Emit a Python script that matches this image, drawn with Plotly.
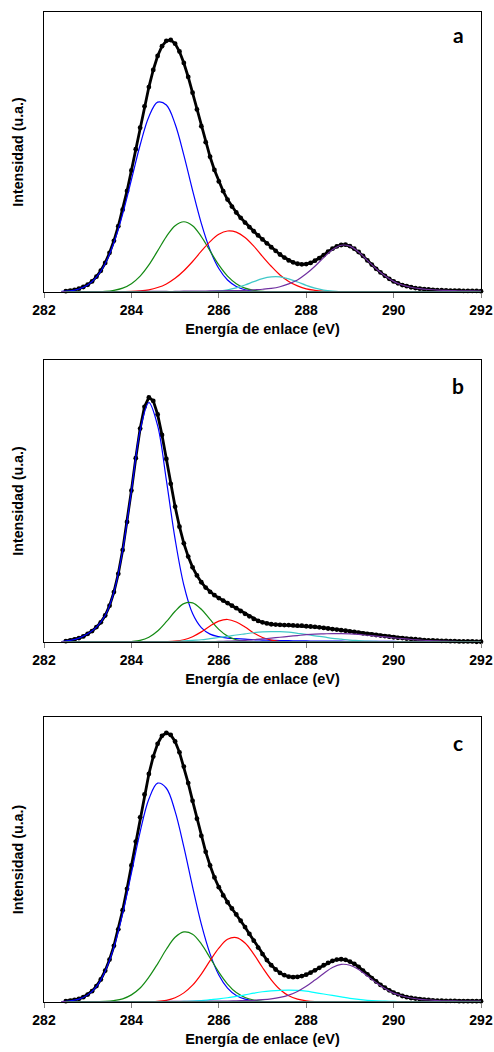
import plotly.graph_objects as go

# Energy grids (eV): data points every 0.1 eV, fitted components every 0.2 eV
X_DATA = [round(282.5 + 0.1 * i, 1) for i in range(96)]
X_FIT = [round(282.4 + 0.2 * i, 1) for i in range(49)]
X_TICKS = [282, 284, 286, 288, 290, 292]

# ---------------- panel a ----------------
A_DATA = [0.3,0.5,0.8,1.2,1.8,2.6,3.8,5.5,7.6,10.4,
          14,18.3,23.5,29.4,36.1,43.4,51,58.7,66.3,73.2,
          79.3,84.3,87.8,89.7,90,88.7,85.9,81.8,76.8,71.2,
          65.2,59.2,53.5,48.3,43.6,39.5,36,33,30.5,28.4,
          26.5,24.8,23.2,21.7,20.2,18.8,17.4,16,14.7,13.4,
          12.3,11.3,10.6,10.1,9.9,10,10.4,11.2,12.1,13.2,
          14.4,15.5,16.3,16.8,16.9,16.4,15.5,14.3,12.9,11.3,
          9.8,8.3,7.0,5.8,4.7,3.8,3.1,2.5,2.1,1.7,
          1.4,1.2,1.0,0.9,0.8,0.7,0.7,0.6,0.5,0.5,
          0.5,0.4,0.4,0.4,0.4,0.3]
A_BLUE = [0.2,0.4,1.1,2.5,5.3,10.1,17.6,27.8,40.1,52.5,
          62.6,67.8,66.8,60,48.9,36.3,24.5,15,8.4,4.3,
          2,0.8,0.3,0.1,0,0,0,0,0,0,
          0,0,0,0,0,0,0,0,0,0,
          0,0,0,0,0,0,0,0,0]
A_GREEN = [0,0,0,0,0.1,0.2,0.6,1.4,3,5.7,
           9.7,14.7,19.8,23.7,25.1,23.7,19.8,14.7,9.7,5.7,
           3,1.4,0.6,0.2,0.1,0,0,0,0,0,
           0,0,0,0,0,0,0,0,0,0,
           0,0,0,0,0,0,0,0,0]
A_RED = [0,0,0,0,0,0,0,0.1,0.2,0.4,
         0.8,1.6,2.9,4.9,7.6,10.9,14.6,18,20.6,21.8,
         21.4,19.5,16.4,12.7,9.2,6.1,3.8,2.2,1.1,0.6,
         0.3,0.1,0,0,0,0,0,0,0,0,
         0,0,0,0,0,0,0,0,0]
A_CYAN = [0,0,0,0,0,0,0,0,0,0,
          0,0,0,0,0,0,0,0.1,0.4,0.8,
          1.5,2.5,3.7,4.8,5.4,5.4,4.7,3.6,2.4,1.4,
          0.7,0.3,0.1,0,0,0,0,0,0,0,
          0,0,0,0,0,0,0,0,0]
A_PURPLE = [0.1,0.1,0.1,0.1,0.1,0.1,0.1,0.1,0.1,0.2,
            0.2,0.2,0.2,0.2,0.3,0.3,0.3,0.4,0.4,0.5,
            0.5,0.6,0.8,1,1.3,1.9,2.9,4.3,6.5,9.2,
            12.3,15.1,16.7,16.4,14.3,11.3,8.3,5.8,3.8,2.5,
            1.7,1.2,0.9,0.7,0.6,0.5,0.4,0.4,0.3]

# ---------------- panel b ----------------
B_DATA = [0.3,0.6,0.9,1.4,2,2.9,3.9,5.3,7,9.4,
          12.9,17.7,24.2,32.6,42.6,53.7,65.2,75.7,83.4,86.7,
          85.5,80.7,73.4,64.9,56.1,48,40.9,35,30.3,26.5,
          23.6,21.2,19.3,17.8,16.6,15.6,14.7,13.8,12.9,12,
          11,10,9.1,8.2,7.5,7,6.6,6.3,6.2,6.1,
          6,6,5.9,5.8,5.8,5.6,5.5,5.4,5.2,5,
          4.8,4.6,4.4,4.2,4,3.8,3.6,3.3,3.1,2.9,
          2.7,2.5,2.3,2.1,1.9,1.7,1.5,1.4,1.2,1.1,
          1,0.8,0.7,0.6,0.6,0.5,0.4,0.4,0.3,0.3,
          0.2,0.2,0.2,0.2,0.1,0.1]
B_BLUE = [0.2,0.6,1.4,2.9,5.3,9.4,17.7,32.5,53.5,75,
          84.9,76.7,57.4,36.5,20.2,10.1,5.1,2.8,1.9,1.4,
          1.2,1,0.8,0.7,0.6,0.5,0.5,0.4,0.4,0.3,
          0.3,0.3,0.3,0.2,0.2,0.2,0.2,0.2,0.2,0.1,
          0.1,0.1,0.1,0.1,0.1,0.1,0.1,0.1,0.1]
B_GREEN = [0,0,0,0,0,0,0,0,0.2,0.6,
           1.7,3.9,7.2,10.9,13.6,13.9,11.6,8,4.5,2.1,
           0.8,0.2,0.1,0,0,0,0,0,0,0,
           0,0,0,0,0,0,0,0,0,0,
           0,0,0,0,0,0,0,0,0]
B_RED = [0,0,0,0,0,0,0,0,0,0,
         0,0,0.1,0.3,0.8,1.9,3.6,5.7,7.4,8,
         7.1,5.3,3.2,1.6,0.7,0.2,0.1,0,0,0,
         0,0,0,0,0,0,0,0,0,0,
         0,0,0,0,0,0,0,0,0]
B_CYAN = [0,0,0,0,0,0,0,0,0,0,
          0,0.1,0.1,0.2,0.4,0.6,0.8,1.2,1.6,2,
          2.5,2.9,3.3,3.6,3.7,3.7,3.5,3.1,2.7,2.2,
          1.8,1.3,1,0.7,0.5,0.3,0.2,0.1,0.1,0,
          0,0,0,0,0,0,0,0,0]
B_PURPLE = [0,0,0,0,0,0,0,0,0,0,
            0,0,0,0,0,0.1,0.1,0.1,0.2,0.3,
            0.4,0.6,0.8,1.1,1.4,1.7,2,2.3,2.6,2.8,
            2.9,3,3,2.9,2.7,2.4,2.1,1.8,1.5,1.2,
            0.9,0.7,0.5,0.4,0.3,0.2,0.1,0.1,0]

# ---------------- panel c ----------------
C_DATA = [0.3,0.5,0.7,1.1,1.7,2.6,3.8,5.6,7.9,11,
          14.9,19.7,25.5,32.2,39.7,47.9,56.3,64.8,72.8,80,
          86.1,90.6,93.4,94.4,93.7,91.4,87.6,82.6,76.8,70.6,
          64.3,58.3,52.7,47.9,43.7,40.3,37.4,35,32.8,30.7,
          28.5,26.3,23.9,21.5,19.1,16.8,14.7,12.9,11.4,10.2,
          9.4,8.9,8.7,8.8,9.1,9.6,10.3,11.1,12,12.9,
          13.7,14.4,14.9,15,14.8,14.2,13.4,12.3,11,9.7,
          8.4,7.2,6,5,4.1,3.3,2.7,2.1,1.7,1.4,
          1.2,1,0.8,0.7,0.6,0.5,0.5,0.4,0.4,0.4,
          0.3,0.3,0.3,0.3,0.3,0.3]
C_BLUE = [0.1,0.4,1,2.5,5.4,10.8,19.2,31,45.2,59.7,
          71.2,76.8,75,66.9,54.4,40.4,27.3,16.9,9.5,4.9,
          2.3,1,0.4,0.1,0,0,0,0,0,0,
          0,0,0,0,0,0,0,0,0,0,
          0,0,0,0,0,0,0,0,0]
C_GREEN = [0,0,0,0,0.1,0.2,0.5,1.1,2.5,4.9,
           8.7,13.4,18.5,22.7,24.6,23.8,20.4,15.5,10.5,6.3,
           3.3,1.6,0.7,0.2,0.1,0,0,0,0,0,
           0,0,0,0,0,0,0,0,0,0,
           0,0,0,0,0,0,0,0,0]
C_RED = [0,0,0,0,0,0,0,0,0,0,
         0.1,0.2,0.6,1.5,3.2,5.9,9.8,14.5,18.9,22,
         22.6,20.7,16.8,12.1,7.8,4.4,2.2,1,0.4,0.1,
         0,0,0,0,0,0,0,0,0,0,
         0,0,0,0,0,0,0,0,0]
C_CYAN = [0,0,0,0,0,0,0,0,0,0,
          0,0,0.1,0.1,0.2,0.3,0.5,0.8,1.1,1.5,
          2,2.5,3.1,3.6,3.9,4.1,4.2,4.1,3.8,3.3,
          2.8,2.3,1.8,1.3,0.9,0.6,0.4,0.3,0.2,0.1,
          0,0,0,0,0,0,0,0,0]
C_PURPLE = [0.1,0.1,0.1,0.1,0.1,0.1,0.1,0.1,0.1,0.1,
            0.1,0.1,0.2,0.2,0.2,0.2,0.2,0.3,0.3,0.3,
            0.4,0.5,0.6,0.8,1.1,1.6,2.4,3.7,5.5,7.7,
            10,12.1,13.2,12.9,11.4,9.1,6.8,4.7,3.1,2.1,
            1.4,0.9,0.7,0.5,0.4,0.4,0.3,0.3,0.3]

PANELS = [
    ("a", A_DATA, [A_BLUE, A_GREEN, A_RED, A_CYAN, A_PURPLE], "#40c8c8"),
    ("b", B_DATA, [B_BLUE, B_GREEN, B_RED, B_CYAN, B_PURPLE], "#40c8c8"),
    ("c", C_DATA, [C_BLUE, C_GREEN, C_RED, C_CYAN, C_PURPLE], "#00ffff"),
]
Y_DOMAINS = [[0.7224, 0.9886], [0.3897, 0.6578], [0.04753, 0.31844]]
LABEL_Y_PX = [34, 385, 742]

FONT = "Liberation Sans, Arial, sans-serif"
fig = go.Figure()
for i, (lab, data, comps, cyan) in enumerate(PANELS):
    ax = "" if i == 0 else str(i + 1)
    fig.add_trace(go.Scatter(x=X_DATA, y=data, mode="lines+markers",
                             line=dict(color="black", width=2.8),
                             marker=dict(color="black", size=4.8),
                             xaxis="x" + ax, yaxis="y" + ax, cliponaxis=False))
    cols = ["#0000ff", "#138a13", "#ff0000", cyan, "#7030a0"]
    for yv, col in zip(comps, cols):
        fig.add_trace(go.Scatter(x=X_FIT, y=yv, mode="lines",
                                 line=dict(color=col, width=1.2, shape="spline"),
                                 xaxis="x" + ax, yaxis="y" + ax, cliponaxis=False))
    fig.add_trace(go.Scatter(x=[X_DATA[0], X_DATA[-1]], y=[0, 0], mode="lines",
                             line=dict(color="#4a706c", width=2.2),
                             xaxis="x" + ax, yaxis="y" + ax, cliponaxis=False))
    fig.layout["xaxis" + ax] = dict(
        domain=[0, 1], range=[282, 292], tickvals=X_TICKS, ticks="outside", ticklen=5,
        tickcolor="#808080", showline=True, linecolor="black", linewidth=1, mirror=True,
        showgrid=False, zeroline=False, anchor="y" + ax,
        tickfont=dict(family=FONT, size=14, color="black", weight="bold"),
        title=dict(text="Energía de enlace (eV)", standoff=7,
                   font=dict(family=FONT, size=14.5, color="black", weight="bold")))
    fig.layout["yaxis" + ax] = dict(
        domain=Y_DOMAINS[i], range=[0, 100], showticklabels=False, ticks="",
        showline=True, linecolor="black", linewidth=1, mirror=True,
        showgrid=False, zeroline=False, anchor="x" + ax,
        title=dict(text="Intensidad (u.a.)", standoff=15,
                   font=dict(family=FONT, size=14.3, color="black", weight="bold")))
    fig.add_annotation(text=lab, x=(458 - 44) / 437, y=(1052 - LABEL_Y_PX[i]) / 1052,
                       xref="paper", yref="paper", showarrow=False,
                       xanchor="center", yanchor="middle",
                       font=dict(family="Lato, sans-serif", size=21, color="black", weight="bold"))

fig.update_layout(width=494, height=1052, margin=dict(l=44, r=13, t=0, b=0),
                  showlegend=False, plot_bgcolor="white", paper_bgcolor="white")
fig.write_html("out.html")
